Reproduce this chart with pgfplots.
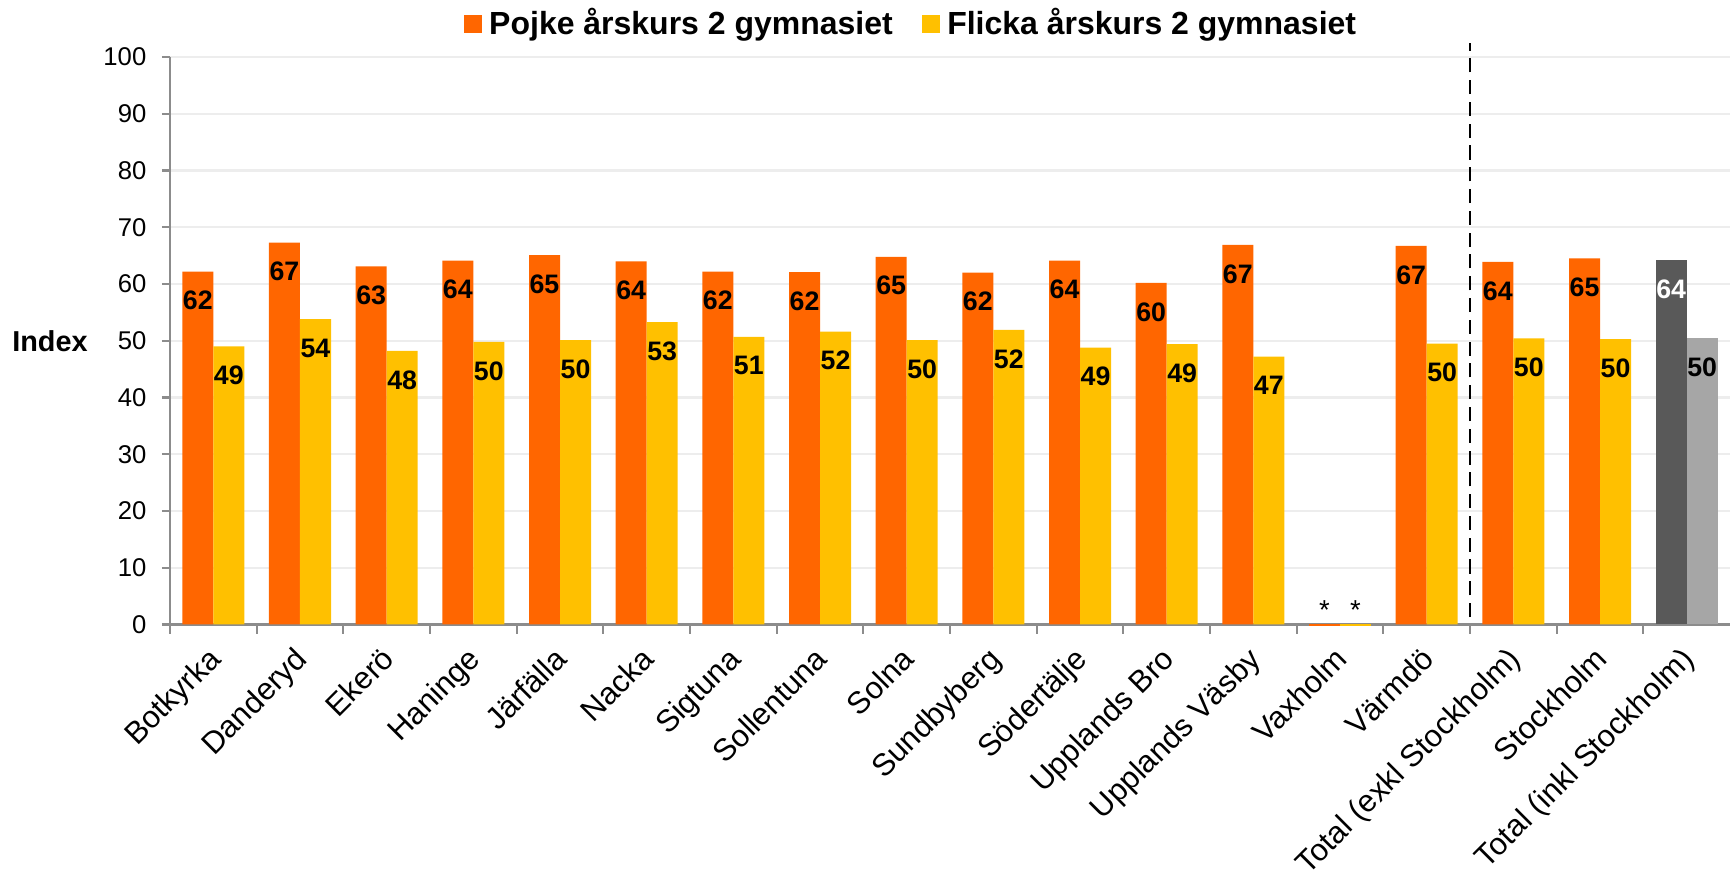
\documentclass[border=0pt]{standalone}
\usepackage{fontspec}
\setmainfont{Liberation Sans}
\usepackage{pgfplots}
\pgfplotsset{compat=1.18}
\definecolor{cOr}{HTML}{FF6600}
\definecolor{cYe}{HTML}{FFC000}
\definecolor{cDg}{HTML}{595959}
\definecolor{cLg}{HTML}{A6A6A6}
\definecolor{cAx}{HTML}{8C8C8C}
\definecolor{cGr}{HTML}{EDEDED}
\pgfplotsset{
  barO/.style={ybar, bar width=0.31cm, bar shift=-0.155cm, draw=none},
  barY/.style={ybar, bar width=0.31cm, bar shift=0.155cm, draw=none},
  lab/.style={nodes near coords, point meta=explicit symbolic,
    every node near coord/.append style={anchor=center, xshift=#1, yshift=-0.29cm, inner sep=0pt,
      font=\bfseries\fontsize{7.6}{8}\selectfont}},
  star/.style={nodes near coords={*},
    every node near coord/.append style={anchor=base, xshift=#1, yshift=0.065cm, inner sep=0pt, font=\fontsize{7.8}{8}\selectfont}},
}
\begin{document}
\begin{tikzpicture}
\begin{axis}[name=ax, scale only axis, width=15.60cm, height=5.675cm,
  xmin=-0.5, xmax=17.5, ymin=0, ymax=100, clip=false,
  axis lines=left, axis line style={-, draw=cAx, line width=0.6pt},
  ytick={0,10,...,100}, ymajorgrids, major grid style={draw=cGr, line width=0.6pt},
  tick align=outside, major tick length=0.08cm, minor tick length=0.09cm,
  tick style={draw=cAx, line width=0.6pt},
  xtick={0,...,17}, minor xtick={-0.5,0.5,...,16.5},
  major x tick style={draw=none},
  xticklabels={Botkyrka, Danderyd, Ekerö, Haninge, Järfälla, Nacka, Sigtuna, Sollentuna, Solna, Sundbyberg, Södertälje, Upplands Bro, Upplands Väsby, Vaxholm, Värmdö, Total (exkl Stockholm), Stockholm, Total (inkl Stockholm)},
  xticklabel style={font=\fontsize{8.8}{10}\selectfont, xshift=-0.07cm, yshift=-0.12cm, rotate=45, anchor=north east, inner sep=0pt},
  yticklabel style={font=\fontsize{7.3}{8}\selectfont, inner sep=0pt, xshift=-0.15cm},
  /pgf/number format/assume math mode=true,
  ylabel={Index}, ylabel style={rotate=-90, at={(rel axis cs:0,0.5)}, anchor=center, xshift=-1.2cm, font=\bfseries\fontsize{8.2}{9}\selectfont},
  legend style={at={(0.4766,1.058)}, anchor=center, draw=none, fill=none, legend columns=2,
    font=\bfseries\fontsize{9.1}{10}\selectfont, /tikz/every even column/.append style={column sep=0.22cm}},
  legend cell align=left,
]
\addlegendimage{legend image code/.code={\fill[cOr] (0cm,-0.085cm) rectangle (0.17cm,0.085cm);}}
\addlegendentry{Pojke årskurs 2 gymnasiet}
\addlegendimage{legend image code/.code={\fill[cYe] (0cm,-0.085cm) rectangle (0.17cm,0.085cm);}}
\addlegendentry{Flicka årskurs 2 gymnasiet}

\addplot[barO, fill=cOr, lab=-0.155cm, forget plot] coordinates {
 (0,62.2) [62] (1,67.3) [67] (2,63.1) [63] (3,64.1) [64] (4,65.1) [65] (5,64.0) [64]
 (6,62.2) [62] (7,62.1) [62] (8,64.8) [65] (9,62.0) [62] (10,64.1) [64] (11,60.2) [60]
 (12,66.9) [67] (14,66.7) [67] (15,63.9) [64] (16,64.5) [65]};
\addplot[barY, fill=cYe, lab=0.155cm, forget plot] coordinates {
 (0,49.0) [49] (1,53.8) [54] (2,48.2) [48] (3,49.8) [50] (4,50.1) [50] (5,53.3) [53]
 (6,50.7) [51] (7,51.6) [52] (8,50.1) [50] (9,51.9) [52] (10,48.8) [49] (11,49.4) [49]
 (12,47.2) [47] (14,49.5) [50] (15,50.4) [50] (16,50.3) [50]};
% Vaxholm
\addplot[barO, fill=cOr, forget plot, star=-0.155cm] coordinates {(13,-0.35)};
\addplot[barY, fill=cYe, forget plot, star=0.155cm] coordinates {(13,-0.35)};
% Total inkl Stockholm
\addplot[barO, fill=cDg, lab=-0.155cm, forget plot, every node near coord/.append style={text=white}] coordinates {(17,64.2) [64]};
\addplot[barY, fill=cLg, lab=0.155cm, forget plot] coordinates {(17,50.5) [50]};
\draw[black, line width=0.6pt, dash pattern=on 4pt off 2.2pt] (axis cs:14.5,1.3) -- (axis cs:14.5,102.5);
\end{axis}
\pgfresetboundingbox
\path[use as bounding box] ([xshift=-1.70cm,yshift=-2.565cm]ax.south west) rectangle ([yshift=0.57cm]ax.north east);
\end{tikzpicture}
\end{document}
